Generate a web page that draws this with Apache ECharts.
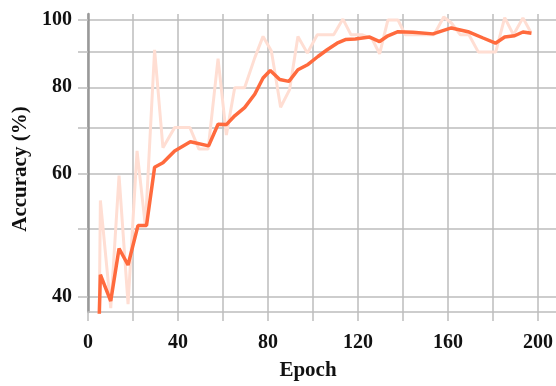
<!DOCTYPE html>
<html lang="en">
<head>
    <meta charset="UTF-8">
    <title>Accuracy</title>
    <script src="https://cdn.jsdelivr.net/npm/echarts@6/dist/echarts.min.js"></script>
</head>
<body style="margin:0">
<div id="main" style="width: 556px;height:386px;"></div>
<script>
    // smoothed curve, [epoch, accuracy]
    var smoothData = [
        [5.0, 37.5], [5.5, 43.0], [10.1, 39.4], [13.8, 46.9], [17.8, 44.4], [22.2, 50.6],
        [26.0, 50.6], [29.6, 61.4], [33.3, 62.3], [38.5, 64.8], [45.5, 66.8], [53.6, 65.9],
        [57.8, 70.8], [61.5, 70.7], [65.2, 72.8], [69.6, 74.8], [74.1, 78.2], [77.8, 82.5],
        [81.0, 84.6], [85.2, 82.1], [89.3, 81.6], [93.3, 84.8], [97.8, 86.3], [102.2, 88.6],
        [106.3, 90.6], [110.7, 92.6], [114.4, 93.7], [118.8, 93.9], [125.2, 94.5], [129.6, 93.1],
        [133.3, 94.9], [137.8, 96.2], [144.4, 96.0], [153.3, 95.5], [161.5, 97.4], [168.9, 96.2],
        [175.6, 94.2], [181.1, 92.6], [185.2, 94.5], [189.6, 94.9], [193.3, 96.1], [197.1, 95.7]
    ];
    // raw curve, [epoch, accuracy]
    var rawData = [
        [5.0, 37.5], [5.5, 55.0], [10.1, 38.5], [13.8, 59.7], [17.8, 39.0], [21.8, 64.8],
        [25.5, 50.5], [29.6, 90.6], [33.3, 65.5], [38.5, 70.0], [45.3, 70.0], [49.3, 65.2],
        [53.4, 65.2], [57.8, 88.0], [61.5, 68.3], [65.2, 79.9], [69.6, 79.9], [74.1, 88.2],
        [77.8, 94.7], [81.5, 90.2], [85.6, 74.9], [89.6, 79.4], [93.3, 94.7], [97.5, 89.6],
        [101.9, 95.2], [109.2, 95.2], [113.3, 100.3], [116.9, 95.2], [122.0, 95.2], [126.3, 93.9],
        [129.6, 89.4], [133.3, 100.0], [137.8, 100.0], [141.0, 95.2], [153.8, 95.2], [158.1, 101.0],
        [161.5, 99.0], [165.5, 95.2], [169.3, 95.2], [173.5, 89.9], [181.2, 89.9], [185.2, 100.8],
        [189.1, 95.2], [193.3, 100.7], [196.8, 96.0]
    ];
    var xTicks = [0, 20, 40, 60, 80, 100, 120, 140, 160, 180, 200];
    var xLabels = [0, 40, 80, 120, 160, 200];
    var yTicks = [40, 50, 60, 70, 80, 90, 100];
    var yLabels = [40, 60, 80, 100];

    var myChart = echarts.init(document.getElementById('main'));
    var gridColor = '#bdbdbd';
    var font = 'Liberation Serif';

    var option = {
        animation: false,
        textStyle: {fontFamily: font},
        grid: {left: 88, right: 0, top: 14, bottom: 72},
        xAxis: {
            type: 'value',
            min: 0,
            max: 208,
            name: 'Epoch',
            nameLocation: 'middle',
            nameGap: 48,
            nameTextStyle: {fontSize: 21, fontWeight: 'bold', color: '#111', fontFamily: font, padding: [0, 28, 0, 0]},
            axisLine: {lineStyle: {color: gridColor, width: 1.5}},
            axisTick: {show: true, length: 9, customValues: xTicks, lineStyle: {color: gridColor, width: 1.5}},
            axisLabel: {customValues: xLabels, margin: 21, fontSize: 20, fontWeight: 'bold', color: '#111', fontFamily: font},
            splitLine: {show: true, lineStyle: {color: gridColor, width: 1.5}}
        },
        yAxis: {
            type: 'log',
            logBase: 10,
            min: 38,
            max: 102,
            name: 'Accuracy (%)',
            nameLocation: 'middle',
            nameGap: 56,
            nameTextStyle: {fontSize: 21, fontWeight: 'bold', color: '#111', fontFamily: font, padding: [0, 12, 0, 0]},
            axisLine: {show: true, lineStyle: {color: '#999999', width: 2.5}},
            axisTick: {show: true, length: 10, customValues: yTicks, lineStyle: {color: gridColor, width: 1.5}},
            axisLabel: {customValues: yLabels, margin: 16, fontSize: 20, fontWeight: 'bold', color: '#111', fontFamily: font},
            splitLine: {show: true, lineStyle: {color: gridColor, width: 1.5}}
        },
        series: [
            {
                name: 'raw',
                type: 'line',
                data: rawData,
                symbol: 'none',
                z: 2,
                lineStyle: {color: '#ffded3', width: 3}
            },
            {
                name: 'smoothed',
                type: 'line',
                data: smoothData,
                symbol: 'none',
                z: 3,
                lineStyle: {color: '#ff6a3d', width: 3.5}
            }
        ]
    };

    myChart.setOption(option);
</script>
</body>
</html>
